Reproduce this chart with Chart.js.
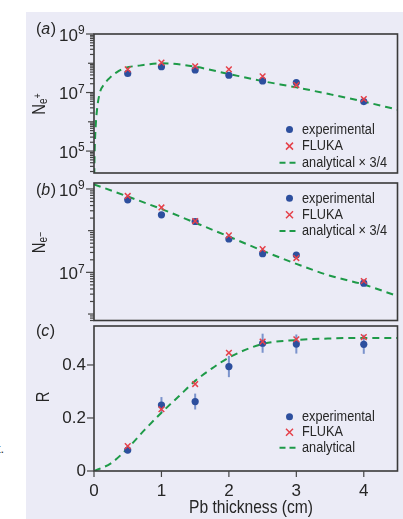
<!DOCTYPE html>
<html>
<head>
<meta charset="utf-8">
<script src="https://cdn.jsdelivr.net/npm/chart.js@4.4.1/dist/chart.umd.min.js"></script>
<style>
  html, body { margin: 0; padding: 0; background: #fff; }
  #wrap { position: relative; width: 403px; height: 519px; overflow: hidden; }
  #bg { position: absolute; left: 26px; top: 12px; right: 0; bottom: 0; background: #ebebf6; }
  #frag { position: absolute; left: -3px; top: 441px; font: 13px "Liberation Sans", Arial, sans-serif; color: #333; }
  canvas { position: absolute; left: 0; }
</style>
</head>
<body>
<div id="wrap">
  <div id="bg"></div>
  <div id="frag">t.</div>
  <canvas id="chartA" width="403" height="180" style="top:0px"></canvas>
  <canvas id="chartB" width="403" height="150" style="top:176px"></canvas>
  <canvas id="chartC" width="403" height="200" style="top:319px"></canvas>
</div>
<script>
// ---------- data ----------
const thickness = [0.5, 1, 1.5, 2, 2.5, 3, 4];

// (a) positrons
const posExp   = [4.5e7, 7.6e7, 5.9e7, 3.9e7, 2.5e7, 2.2e7, 4.9e6];
const posFluka = [6.2e7, 1.05e8, 7.9e7, 6.2e7, 3.6e7, 1.8e7, 6.0e6];
const posAnaX  = [0.004, 0.01, 0.025, 0.044, 0.084, 0.157, 0.23, 0.33, 0.45, 0.67, 1.0, 1.5, 2.0, 2.5, 3.0, 3.5, 4.0, 4.5];
const posAnaY  = [1.5e4, 1.0e5, 7.0e5, 2.5e6, 9.3e6, 2.0e7, 3.1e7, 4.8e7, 6.8e7, 8.3e7, 1.0e8, 7.6e7, 4.3e7, 2.45e7, 1.5e7, 8.7e6, 4.9e6, 2.6e6];

// (b) electrons
const eleExp   = [5.5e8, 2.4e8, 1.66e8, 6.3e7, 2.8e7, 2.6e7, 5.5e6];
const eleFluka = [6.8e8, 3.6e8, 1.7e8, 7.7e7, 3.6e7, 2.2e7, 6.2e6];
const eleAnaX  = [0, 0.5, 1, 1.5, 2, 2.5, 3, 3.5, 4, 4.5];
const eleAnaY  = [1.29e9, 6.6e8, 3.3e8, 1.55e8, 7.2e7, 3.3e7, 1.6e7, 8.3e6, 5.1e6, 2.7e6];

// (c) ratio
const ratioExp   = [0.079, 0.249, 0.262, 0.394, 0.482, 0.479, 0.478];
const ratioErr   = [0.012, 0.03, 0.03, 0.04, 0.036, 0.036, 0.036];
const ratioFluka = [0.094, 0.233, 0.328, 0.446, 0.488, 0.497, 0.505];
const ratioAnaX  = [0, 0.25, 0.5, 0.75, 1, 1.25, 1.5, 1.75, 2, 2.5, 3, 3.5, 4, 4.5];
const ratioAnaY  = [0, 0.029, 0.086, 0.155, 0.22, 0.28, 0.34, 0.387, 0.428, 0.479, 0.494, 0.5, 0.502, 0.502];

// tick labels
const logMajorA = [1e5, 1e7, 1e9];
const logMajorB = [1e7, 1e9];
const ratioTicks = [0, 0.2, 0.4];
const ratioTickLabels = ["0", "0.2", "0.4"];
const xTicks = [0, 1, 2, 3, 4];
const xTickLabels = ["0", "1", "2", "3", "4"];

const legendA = ["experimental", "FLUKA", "analytical \u00d7 3/4"];
const legendC = ["experimental", "FLUKA", "analytical"];

// ---------- style ----------
const BLUE = "#2d4f9e";
const ERR = "#7b93cc";
const RED = "#e5414a";
const GREEN = "#1e9a48";
const INK = "#262626";
const SANS = '"Liberation Sans", Arial, sans-serif';
const SQUEEZE = 0.82; // condensed look of the original type

function pts(xs, ys) {
  return xs.map((x, i) => ({ x: x, y: ys[i] }));
}

function logMinor(min, max) {
  const out = [];
  for (let e = Math.floor(Math.log10(min)); e <= Math.ceil(Math.log10(max)); e++) {
    for (let k = 1; k < 10; k++) {
      const v = k * Math.pow(10, e);
      if (v >= min && v <= max) out.push(v);
    }
  }
  return out;
}

// condensed text
function narrow(ctx, text, x, y, size, align) {
  ctx.save();
  ctx.font = size + "px " + SANS;
  ctx.translate(x, y);
  ctx.scale(SQUEEZE, 1);
  ctx.textAlign = align || "left";
  ctx.fillText(text, 0, 0);
  ctx.restore();
}
function narrowWidth(ctx, text, size) {
  ctx.save();
  ctx.font = size + "px " + SANS;
  const w = ctx.measureText(text).width * SQUEEZE;
  ctx.restore();
  return w;
}

const decor = {
  id: "decor",
  beforeDatasetsDraw(chart, args, o) {
    if (!o.errors) return;
    const { ctx, scales } = chart;
    ctx.save();
    ctx.strokeStyle = ERR;
    ctx.lineWidth = 2;
    thickness.forEach((t, i) => {
      const px = scales.x.getPixelForValue(t);
      ctx.beginPath();
      ctx.moveTo(px, scales.y.getPixelForValue(o.values[i] - o.errors[i]));
      ctx.lineTo(px, scales.y.getPixelForValue(o.values[i] + o.errors[i]));
      ctx.stroke();
    });
    ctx.restore();
  },
  afterDraw(chart, args, o) {
    const { ctx, chartArea: a, scales } = chart;
    const ys = scales.y, xs = scales.x;
    ctx.save();

    // frame
    ctx.strokeStyle = "#3a3a3a";
    ctx.lineWidth = 1.6;
    ctx.strokeRect(a.left, a.top, a.right - a.left, a.bottom - a.top);

    // y ticks
    ctx.lineWidth = 1.2;
    ctx.strokeStyle = "#444";
    if (o.log) {
      logMinor(ys.min, ys.max).forEach(v => {
        const py = ys.getPixelForValue(v);
        const decade = Math.abs(Math.log10(v) - Math.round(Math.log10(v))) < 1e-9;
        const len = o.majors.includes(v) ? 8 : (decade ? 6 : 4);
        ctx.beginPath();
        ctx.moveTo(a.left, py);
        ctx.lineTo(a.left - len, py);
        ctx.stroke();
      });
      ctx.fillStyle = INK;
      ctx.textBaseline = "middle";
      o.majors.forEach(v => {
        const py = ys.getPixelForValue(v);
        ctx.font = "17px " + SANS;
        ctx.textAlign = "right";
        ctx.fillText("10", 78, py + 2);
        ctx.font = "12px " + SANS;
        ctx.textAlign = "left";
        ctx.fillText(String(Math.round(Math.log10(v))), 78, py - 3);
      });
    } else {
      ctx.fillStyle = INK;
      ctx.textBaseline = "middle";
      ctx.textAlign = "right";
      ctx.font = "17px " + SANS;
      o.ticks.forEach((v, i) => {
        const py = ys.getPixelForValue(v);
        ctx.beginPath();
        ctx.moveTo(a.left, py);
        ctx.lineTo(a.left - 7, py);
        ctx.stroke();
        ctx.fillText(o.tickLabels[i], 86, py);
      });
    }

    // x ticks and title (bottom panel)
    if (o.xTicks) {
      ctx.textAlign = "center";
      ctx.textBaseline = "middle";
      ctx.font = "17px " + SANS;
      o.xTicks.forEach((v, i) => {
        const px = xs.getPixelForValue(v);
        ctx.beginPath();
        ctx.moveTo(px, a.bottom);
        ctx.lineTo(px, a.bottom + 6);
        ctx.stroke();
        ctx.fillText(o.xTickLabels[i], px, a.bottom + 20);
      });
      narrow(ctx, "Pb thickness (cm)", 251, a.bottom + 37, 19, "center");
    }

    // panel label
    ctx.textAlign = "left";
    ctx.textBaseline = "alphabetic";
    let lx = 36;
    ctx.font = "16px " + SANS;
    ctx.fillText("(", lx, o.labelY); lx += ctx.measureText("(").width;
    ctx.font = "italic 16px " + SANS;
    ctx.fillText(o.label, lx, o.labelY); lx += ctx.measureText(o.label).width + 0.5;
    ctx.font = "16px " + SANS;
    ctx.fillText(")", lx, o.labelY);

    // y title, rotated
    ctx.save();
    ctx.translate(o.titleX, o.titleY);
    ctx.rotate(-Math.PI / 2);
    ctx.textBaseline = "middle";
    const parts = o.title;
    let w = 0;
    parts.forEach(p => { w += narrowWidth(ctx, p.t, p.size); });
    let tx = -w / 2;
    parts.forEach(p => {
      narrow(ctx, p.t, tx, p.dy, p.size, "left");
      tx += narrowWidth(ctx, p.t, p.size);
    });
    ctx.restore();

    // legend
    ctx.textBaseline = "middle";
    o.legend.forEach((txt, i) => {
      const ly = o.legendY + i * o.legendGap;
      const mx = 289.5;
      if (i === 0) {
        ctx.fillStyle = BLUE;
        ctx.beginPath();
        ctx.arc(mx, ly, 3.5, 0, Math.PI * 2);
        ctx.fill();
      } else if (i === 1) {
        ctx.strokeStyle = RED;
        ctx.lineWidth = 1.5;
        ctx.beginPath();
        ctx.moveTo(mx - 3.5, ly - 3.5); ctx.lineTo(mx + 3.5, ly + 3.5);
        ctx.moveTo(mx + 3.5, ly - 3.5); ctx.lineTo(mx - 3.5, ly + 3.5);
        ctx.stroke();
      } else {
        ctx.strokeStyle = GREEN;
        ctx.lineWidth = 2;
        ctx.setLineDash([6, 4]);
        ctx.beginPath();
        ctx.moveTo(mx - 10, ly); ctx.lineTo(mx + 6, ly);
        ctx.stroke();
        ctx.setLineDash([]);
      }
      ctx.fillStyle = INK;
      narrow(ctx, txt, 302, ly, 15.5, "left");
    });

    ctx.restore();
  }
};

function makePanel(id, yScale, exp, fluka, anaX, anaY, pad, decorOpts) {
  return new Chart(document.getElementById(id), {
    type: "scatter",
    data: {
      datasets: [
        {
          label: "FLUKA",
          data: pts(thickness, fluka),
          pointStyle: "crossRot",
          pointRadius: 4,
          borderColor: RED,
          borderWidth: 1.5,
          order: 1
        },
        {
          label: "experimental",
          data: pts(thickness, exp),
          pointStyle: "circle",
          pointRadius: 3.6,
          backgroundColor: BLUE,
          borderWidth: 0,
          order: 2
        },
        {
          label: "analytical",
          data: pts(anaX, anaY),
          showLine: true,
          pointRadius: 0,
          borderColor: GREEN,
          borderWidth: 2,
          borderDash: [7, 5],
          cubicInterpolationMode: "monotone",
          fill: false,
          order: 3
        }
      ]
    },
    options: {
      responsive: false,
      animation: false,
      events: [],
      layout: { padding: pad },
      scales: {
        x: { type: "linear", min: 0, max: 4.5, display: false },
        y: Object.assign({ display: false }, yScale)
      },
      plugins: {
        legend: { display: false },
        tooltip: { enabled: false },
        decor: decorOpts
      }
    },
    plugins: [decor]
  });
}

makePanel("chartA",
  { type: "logarithmic", min: 1.78e4, max: 1e9 },
  posExp, posFluka, posAnaX, posAnaY,
  { left: 94, right: 3, top: 34, bottom: 7 },
  {
    log: true, majors: logMajorA, label: "a", labelY: 34,
    titleX: 40, titleY: 104,
    title: [{ t: "N", size: 18, dy: 0 }, { t: "e", size: 12, dy: 4 }, { t: "+", size: 11, dy: -2 }],
    legend: legendA, legendY: 129.5, legendGap: 16.6
  });

makePanel("chartB",
  { type: "logarithmic", min: 7e5, max: 1.39e9 },
  eleExp, eleFluka, eleAnaX, eleAnaY,
  { left: 94, right: 3, top: 7, bottom: 5 },
  {
    log: true, majors: logMajorB, label: "b", labelY: 18.5,
    titleX: 40, titleY: 66.5,
    title: [{ t: "N", size: 18, dy: 0 }, { t: "e", size: 12, dy: 4 }, { t: "\u2212", size: 11, dy: 1 }],
    legend: legendA, legendY: 22.3, legendGap: 16.4
  });

makePanel("chartC",
  { type: "linear", min: 0, max: 0.547 },
  ratioExp, ratioFluka, ratioAnaX, ratioAnaY,
  { left: 94, right: 3, top: 7, bottom: 48 },
  {
    log: false, ticks: ratioTicks, tickLabels: ratioTickLabels,
    xTicks: xTicks, xTickLabels: xTickLabels,
    errors: ratioErr, values: ratioExp,
    label: "c", labelY: 17,
    titleX: 44, titleY: 78,
    title: [{ t: "R", size: 18, dy: 0 }],
    legend: legendC, legendY: 97.7, legendGap: 15.5
  });
</script>
</body>
</html>
